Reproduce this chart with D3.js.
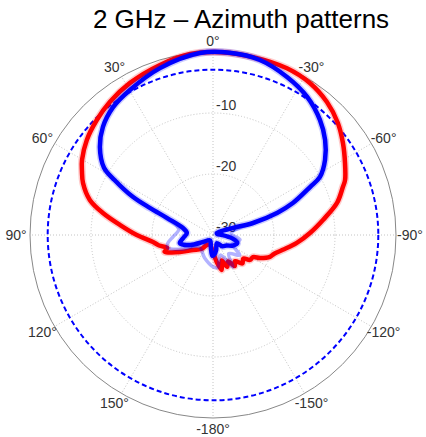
<!DOCTYPE html>
<html>
<head>
<meta charset="utf-8">
<script src="https://cdn.jsdelivr.net/npm/d3@7"></script>
<style>
  body { margin: 0; background: #fff; }
  text { font-family: "Liberation Sans", Arial, sans-serif; }
</style>
</head>
<body>
<script>
// 2 GHz azimuth patterns, values in dB (0 at top, angle positive to the left)
let redAngles = [163, 180, -172, -166, -161, -156, -150, -145, -140, -134, -128, -124, -119, -116, -111, -107, -102, -95.4, -88.8, -82.2, -75.5, -69.7, -67.4, -61.4, -54.7, -48.1, -40.6, -32.5, -23.9, -12.7, -2.2, 7.2, 17.3, 28.6, 37.8, 45.3, 53, 60.2, 64, 68.2, 74.1, 78.7, 83.9, 90, 96.7, 101, 105.8, 109, 111.8, 117.3, 126.9, 140, 150];
let redDb = [-28.3, -27.2, -25.5, -24.1, -25.6, -24.3, -25.0, -23.8, -24.4, -23.3, -23.7, -22.7, -22.5, -21.4, -20.0, -19.5, -18.3, -16.2, -14.1, -11.8, -9.0, -7.3, -6.55, -5.35, -3.9, -2.5, -1.3, -0.45, -0.1, -0.1, 0, -0.1, -0.8, -1.6, -2.4, -3.2, -4.1, -5.25, -6.1, -7.05, -9.0, -11.6, -14.7, -17.5, -20.1, -21.0, -22.2, -21.6, -22.3, -23.9, -25.9, -27.0, -28.2];

let blueAngles = [-63, -70.7, -73.3, -71, -68.2, -63.7, -61.5, -56.2, -49.7, -42.9, -34.3, -25.1, -15, -5.3, 4.1, 17.6, 29.8, 38, 45.5, 52.1, 58.3, 60.8, 64.6, 66.8, 69.7, 76.9, 85.6, 95.7, 103.6, 113.5, 125, 150, 170, 178, -176, -168, -155, -140, -128, -118, -108, -100, -90, -78];
let blueDb = [-29.3, -26.5, -23.15, -18.9, -15.9, -12.25, -10.05, -7.9, -5.9, -4.25, -2.6, -1.4, -0.3, 0, -0.1, -1.3, -2.6, -3.4, -4.7, -6.5, -9.0, -11.5, -15.5, -18.8, -22.0, -24.95, -25.7, -25.1, -24.4, -25.9, -28.0, -29.0, -28.0, -26.6, -26.8, -27.5, -28.5, -27.6, -27.2, -26.3, -25.8, -26.8, -28.5, -29.3];

// faint overlapping traces near the center
let faintAngles = [70, 80, 92, 100, 106, 115, 130, 160, 180, -172, -160, -148, -140, -127, -115, -100, -85, -73];
let faintDb = [-21.5, -24.3, -23.5, -22.5, -22.3, -24.5, -27, -26, -24.8, -24.6, -26.5, -23.8, -26, -24.5, -26.5, -25.5, -27, -23.5];

let refDb = -2.9; // dashed reference circle
let ringDb = [-10, -20, -30];
let spokeAngles = d3.range(0, 360, 30);
let angleLabels = ["0°", "30°", "60°", "90°", "120°", "150°", "-180°", "-150°", "-120°", "-90°", "-60°", "-30°"];

let width = 426;
let height = 437;
let cx = 213, cy = 235, R = 183;

let svg = d3.select("body").append("svg")
  .attr("width", width)
  .attr("height", height);

let rScale = d3.scaleLinear().domain([-30, 0]).range([0, R]).clamp(true);
let toRad = a => -a * Math.PI / 180;

let g = svg.append("g").attr("transform", "translate(" + cx + "," + cy + ")");

// grid rings
g.selectAll(".ring")
  .data(ringDb.filter(d => d > -30))
  .enter().append("circle")
  .attr("r", d => rScale(d))
  .attr("fill", "none")
  .attr("stroke", "#c4c4c4")
  .attr("stroke-width", 1)
  .attr("stroke-dasharray", "1,2");

// spokes
g.selectAll(".spoke")
  .data(spokeAngles)
  .enter().append("line")
  .attr("x1", 0).attr("y1", 0)
  .attr("x2", d => -R * Math.sin(d * Math.PI / 180))
  .attr("y2", d => -R * Math.cos(d * Math.PI / 180))
  .attr("stroke", "#c4c4c4")
  .attr("stroke-width", 1)
  .attr("stroke-dasharray", "1,2");

// outer circle
g.append("circle")
  .attr("r", R)
  .attr("fill", "none")
  .attr("stroke", "#888")
  .attr("stroke-width", 1);

// angle labels
g.selectAll(".alabel")
  .data(spokeAngles)
  .enter().append("text")
  .attr("x", d => -197 * Math.sin(d * Math.PI / 180))
  .attr("y", d => -194 * Math.cos(d * Math.PI / 180))
  .attr("text-anchor", "middle")
  .attr("dominant-baseline", "central")
  .attr("font-size", 14)
  .attr("fill", "#333")
  .text((d, i) => angleLabels[i]);

// radial labels
g.selectAll(".rlabel")
  .data(ringDb)
  .enter().append("text")
  .attr("x", 3)
  .attr("y", d => -rScale(d) - 3)
  .attr("font-size", 14)
  .attr("fill", "#333")
  .text(d => d);

// dashed reference
g.append("circle")
  .attr("r", rScale(refDb))
  .attr("fill", "none")
  .attr("stroke", "#0000ff")
  .attr("stroke-width", 2)
  .attr("stroke-dasharray", "5,3");

let closedLine = d3.lineRadial()
  .angle(d => toRad(d[0]))
  .radius(d => rScale(d[1]))
  .curve(d3.curveCatmullRomClosed.alpha(0.5));

let openLine = d3.lineRadial()
  .angle(d => toRad(d[0]))
  .radius(d => rScale(d[1]))
  .curve(d3.curveCatmullRom.alpha(0.5));

let redPts = redAngles.map((a, i) => [a, redDb[i]]);
let bluePts = blueAngles.map((a, i) => [a, blueDb[i]]);
let faintPts = faintAngles.map((a, i) => [a, faintDb[i]]);

// halos
g.append("path").attr("d", closedLine(redPts))
  .attr("fill", "none").attr("stroke", "#ff0000").attr("stroke-opacity", 0.2).attr("stroke-width", 7.5);
g.append("path").attr("d", closedLine(redPts))
  .attr("fill", "none").attr("stroke", "#ff0000").attr("stroke-width", 4.5).attr("stroke-linejoin", "round");

g.append("path").attr("d", openLine(faintPts))
  .attr("fill", "none").attr("stroke", "#0000ff").attr("stroke-opacity", 0.3).attr("stroke-width", 3.5);
g.append("path").attr("d", closedLine(bluePts))
  .attr("fill", "none").attr("stroke", "#0000ff").attr("stroke-opacity", 0.2).attr("stroke-width", 7.5);
g.append("path").attr("d", closedLine(bluePts))
  .attr("fill", "none").attr("stroke", "#0000ff").attr("stroke-width", 4.5).attr("stroke-linejoin", "round");

// title
svg.append("text")
  .attr("x", 241)
  .attr("y", 28)
  .attr("text-anchor", "middle")
  .attr("font-size", 26)
  .attr("fill", "#000")
  .text("2 GHz – Azimuth patterns");
</script>
</body>
</html>
